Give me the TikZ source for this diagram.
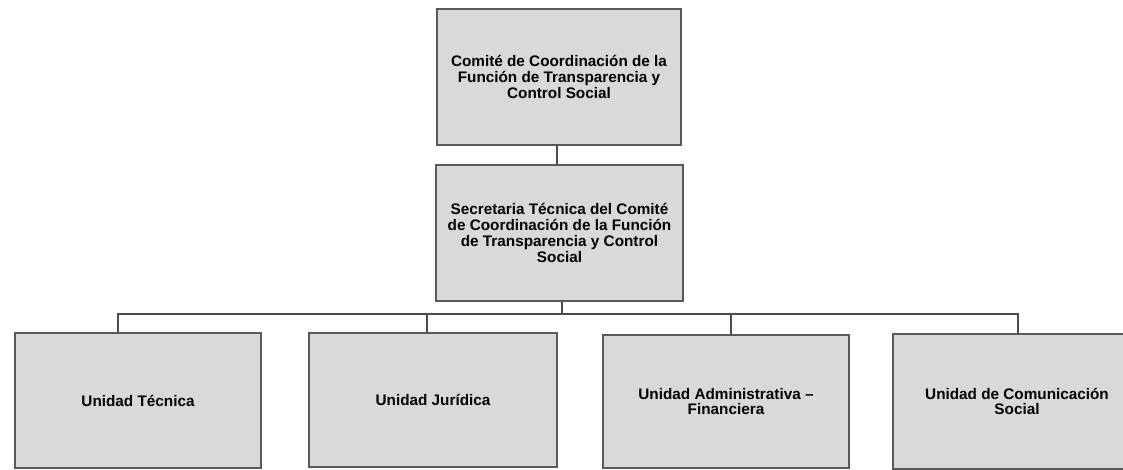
\documentclass[tikz,border=0pt]{standalone}
\usepackage{fontspec}
\setmainfont{Liberation Sans}
\begin{document}
\begin{tikzpicture}[x=1pt,y=-1pt,
  orgbox/.style={draw=black!65, line width=1.4pt, fill={rgb,255:red,217;green,217;blue,217},
    minimum height=135pt, align=center, inner sep=0pt,
    font=\fontsize{15.3}{15.8}\selectfont\bfseries, text=black},
  link/.style={draw=black!70, line width=1.2pt}]
\useasboundingbox (0,0) rectangle (1123,470);
\clip (0,0) rectangle (1123,470);
\node[orgbox, minimum width=244pt, minimum height=136pt] (top) at (559,77)
  {Comité de Coordinación de la\\Función de Transparencia y\\Control Social};
\node[orgbox, minimum width=247pt, minimum height=136pt] (mid) at (559.5,233)
  {Secretaria Técnica del Comité\\de Coordinación de la Función\\de Transparencia y Control\\Social};
\node[orgbox, minimum width=246pt] (tec) at (138,400.5) {Unidad Técnica};
\node[orgbox, minimum width=248pt, minimum height=134pt] (jur) at (433,400) {Unidad Jurídica};
\node[orgbox, minimum width=246pt, minimum height=133pt] (adm) at (726,401.5) {Unidad Administrativa –\\Financiera};
\node[orgbox, minimum width=248pt] (com) at (1017,401.5) {Unidad de Comunicación\\Social};
\coordinate (bus) at (562,314);
\draw[link] (top.south -| 557,0) -- (mid.north -| 557,0);
\draw[link] (mid.south -| bus) -- (bus);
\draw[link] (tec.north -| 118,0) -- (118,314) -- (1018,314) -- (com.north -| 1018,0);
\draw[link] (bus -| 427,0) -- (jur.north -| 427,0);
\draw[link] (bus -| 731,0) -- (adm.north -| 731,0);
\end{tikzpicture}
\end{document}
